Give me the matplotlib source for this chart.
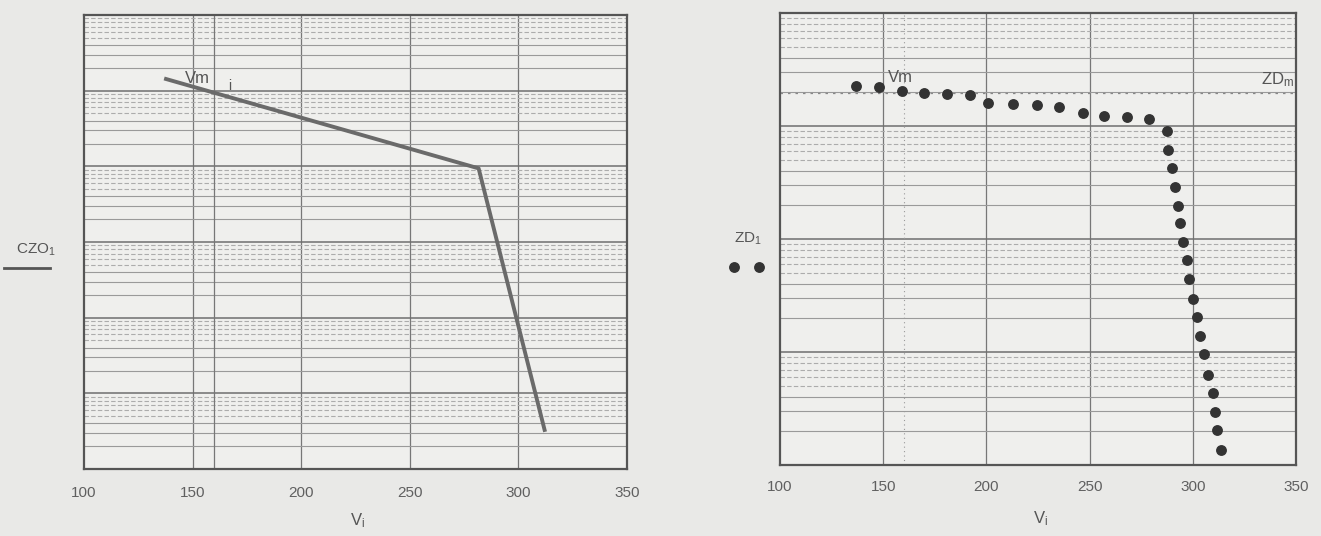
import numpy as np
import matplotlib
matplotlib.use("Agg")
import matplotlib.pyplot as plt
from matplotlib.lines import Line2D

plt.rcParams['font.family'] = ['Liberation Sans', 'DejaVu Sans']
plt.rcParams['mathtext.fontset'] = 'custom'
plt.rcParams['mathtext.rm'] = 'Liberation Sans'
plt.rcParams['mathtext.it'] = 'Liberation Sans'

# left panel: CZO_i vs V_i (two straight segments)
v_line = [136.9, 281.7, 312.3]
czo = [1.45e5, 9.4e3, 3.1]

# right panel: ZD_i vs V_i (dots)
v_dots = [136.8, 148.1, 159.0, 169.8, 180.8, 192.1, 200.9, 213.0, 224.4, 235.3,
          246.7, 257.0, 268.3, 278.9, 287.4, 288.1, 289.8, 291.4, 293.0, 293.8,
          295.1, 297.0, 298.3, 299.9, 302.2, 303.5, 305.4, 307.5, 309.6, 310.8,
          311.9, 313.5]
zd = [2259, 2198, 2042, 1945, 1910, 1871, 1607, 1556, 1535, 1462,
      1312, 1233, 1194, 1153, 904, 614, 423, 290, 196, 138,
      94.6, 65.2, 44.3, 29.4, 20.3, 13.9, 9.6, 6.25, 4.32, 2.96,
      2.04, 1.36]

vm = 160
zd_m = 1972
xticks = [100, 150, 200, 250, 300, 350]

paper = '#e9e9e7'
ink = '#555555'

fig = plt.figure(figsize=(13.21, 5.36), dpi=100, facecolor=paper)
ax1 = fig.add_axes([0.0636, 0.125, 0.411, 0.847])
ax2 = fig.add_axes([0.5905, 0.1325, 0.3906, 0.843])


def style(ax, ylo, yhi, pad):
    ax.set_facecolor('#efefed')
    ax.set_yscale('log')
    ax.set_xlim(100, 350)
    ax.set_ylim(ylo, yhi)
    ax.set_xticks(xticks)
    ax.set_xticklabels([str(t) for t in xticks], fontsize=11, color='#606060')
    ax.set_yticks([])
    ax.set_yticks([], minor=True)
    ax.tick_params(axis='x', length=0, pad=pad)
    for s in ax.spines.values():
        s.set_color(ink)
        s.set_linewidth(1.6)
    # vertical grid
    for t in xticks[1:-1]:
        ax.axvline(t, color='#777777', lw=0.9, zorder=1)
    # log grid, solid for majors and 2-4, dashed for 5-9
    for e in range(int(np.log10(ylo)), int(np.log10(yhi))):
        d = 10.0 ** e
        if e > int(np.log10(ylo)):
            ax.axhline(d, color='#6f6f6f', lw=1.1, zorder=1)
        for k in [2, 3, 4]:
            ax.axhline(k * d, color='#9a9a9a', lw=0.8, zorder=1)
        for k in [5, 6, 7, 8, 9]:
            ax.axhline(k * d, color='#acacac', lw=0.8, ls=(0, (4, 2)), zorder=1)


style(ax1, 1, 1e6, 12)
style(ax2, 1, 1e4, 11)

# left plot
ax1.axvline(vm, color='#777777', lw=0.9, zorder=1)
ax1.plot(v_line, czo, color='#6a6a6a', lw=2.8, zorder=3, solid_capstyle='butt')
ax1.text(0.186, 0.861, 'Vm', transform=ax1.transAxes, fontsize=12, color='#555555',
         va='center', ha='left')
ax1.text(0.265, 0.843, 'i', transform=ax1.transAxes, fontsize=10, color='#555555',
         va='center', ha='left')

# right plot
ax2.axvline(vm, color='#999999', lw=0.8, ls=(0, (1, 3)), zorder=1)
ax2.axhline(zd_m, color='#888888', lw=0.9, ls=(0, (2, 4)), zorder=1)
ax2.plot(v_dots, zd, 'o', color='#333333', ms=6.8, zorder=3)
ax2.text(0.2326, 0.858, 'Vm', transform=ax2.transAxes, fontsize=12, color='#555555',
         va='center', ha='center')
ax2.text(0.996, 0.852, r'ZD$_{\rm m}$', transform=ax2.transAxes, fontsize=12,
         color='#555555', va='center', ha='right')

# axis titles and trace legends (Mathcad style)
fig.text(358 / 1321, 1 - 521 / 536, r'V$_{\rm i}$', fontsize=12, color='#555555',
         ha='center', va='center')
fig.text(1041 / 1321, 1 - 519 / 536, r'V$_{\rm i}$', fontsize=12, color='#555555',
         ha='center', va='center')
fig.text(36 / 1321, 1 - 250 / 536, r'CZO$_{\rm 1}$', fontsize=11, color='#555555',
         ha='center', va='center')
fig.add_artist(Line2D([4 / 1321, 50 / 1321], [1 - 268 / 536, 1 - 268 / 536],
                      color='#555555', lw=2, transform=fig.transFigure))
fig.text(748 / 1321, 1 - 239 / 536, r'ZD$_{\rm 1}$', fontsize=11, color='#555555',
         ha='center', va='center')
fig.add_artist(Line2D([734 / 1321, 759 / 1321], [1 - 267 / 536, 1 - 267 / 536],
                      color='#333333', ls='none', marker='o', ms=6.8,
                      transform=fig.transFigure))

fig.savefig('out.png', dpi=100, facecolor=paper)
